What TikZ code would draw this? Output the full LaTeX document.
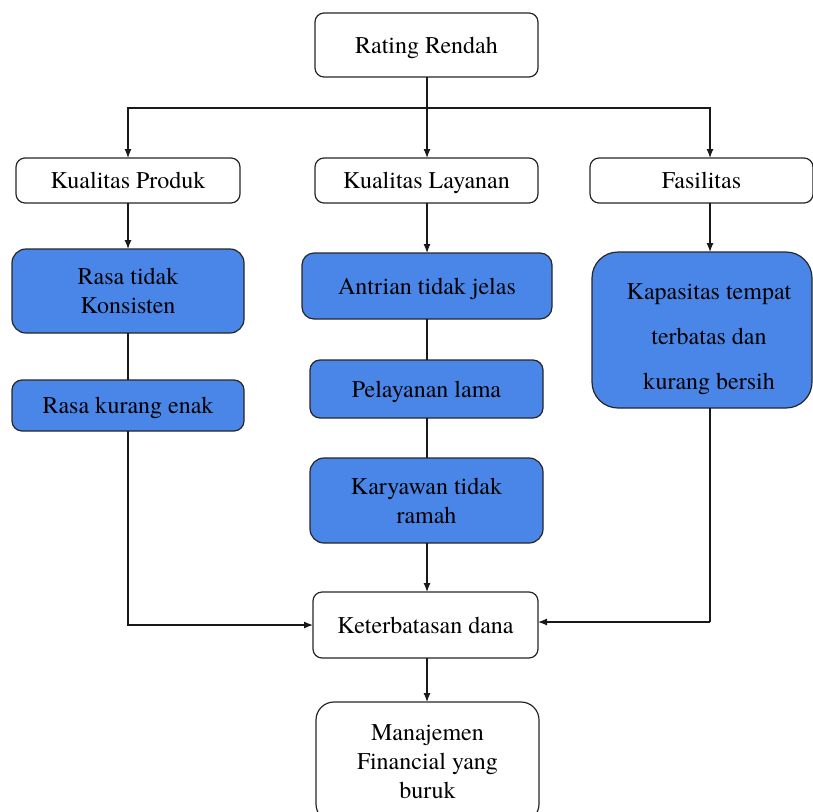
\documentclass[tikz,border=0pt]{standalone}
\usepackage{fontspec}
\setmainfont{TeX Gyre Termes}
\usetikzlibrary{arrows.meta}
\definecolor{gblue}{HTML}{4A86E8}
\begin{document}
\begin{tikzpicture}[x=1pt,y=1pt,
  base/.style={draw=black!85, line width=1.2pt, inner sep=0pt, outer sep=0pt, align=center,
    font=\fontsize{24}{29}\selectfont, text=black},
  one/.style={text height=21.5pt, text depth=5pt},
  wbox/.style={base, fill=white, rounded corners=9pt},
  bbox/.style={base, fill=gblue, rounded corners=14pt},
  txt/.style={inner sep=0pt, align=center, font=\fontsize{24}{29}\selectfont, text=black},
  conn/.style={draw=black!90, line width=1.2pt},
  arr/.style={conn, -{Latex[length=9pt,width=7pt]}}]
\clip (0,0) rectangle (813,-811);
\useasboundingbox (0,0) rectangle (813,-811);
% boxes
\node[wbox, one, minimum width=223pt, minimum height=64pt] (rr) at (426.5,-45) {Rating Rendah};
\node[wbox, one, minimum width=224pt, minimum height=45pt] (kp) at (128,-180.5) {Kualitas Produk};
\node[wbox, one, minimum width=223pt, minimum height=45pt] (kl) at (426.5,-180.5) {Kualitas Layanan};
\node[wbox, one, minimum width=223pt, minimum height=45pt] (fa) at (701.5,-180.5) {Fasilitas};
\node[bbox, minimum width=232pt, minimum height=84pt] (rt) at (128,-291) {Rasa tidak\\Konsisten};
\node[bbox, one, rounded corners=10pt, minimum width=232pt, minimum height=51pt] (rk) at (128,-405.5) {Rasa kurang enak};
\node[bbox, one, rounded corners=12pt, minimum width=250pt, minimum height=66pt] (an) at (427,-286) {Antrian tidak jelas};
\node[bbox, one, rounded corners=10pt, minimum width=233pt, minimum height=58pt] (pl) at (426.5,-389) {Pelayanan lama};
\node[bbox, minimum width=233pt, minimum height=85pt] (ky) at (426.5,-500.5) {Karyawan tidak\\ramah};
\node[bbox, rounded corners=26pt, minimum width=220pt, minimum height=156pt] (ks) at (702,-330) {};
\node[txt] (kst) at (709,-339) {Kapasitas tempat\\[16pt]terbatas dan\\[16pt]kurang bersih};
\node[wbox, one, minimum width=225pt, minimum height=66pt] (kd) at (425.5,-625) {Keterbatasan dana};
\node[wbox, rounded corners=18pt, minimum width=223pt, minimum height=120pt] (mf) at (427.5,-762) {Manajemen\\Financial yang\\buruk};
% helper coordinates
\coordinate (cf) at (710,0);
\coordinate (cl) at (427,0);
% connectors
\draw[conn] (rr.south -| cl) -- ++(0,-31) coordinate (j);
\draw[arr] (j) -| (kp.north);
\draw[arr] (j) -- (kl.north -| cl);
\draw[arr] (j) -| (fa.north -| cf);
\draw[arr] (kp.south) -- (rt.north);
\draw[conn] (rt.south) -- (rk.north);
\draw[arr] (rk.south) |- (kd.west);
\draw[arr] (kl.south -| cl) -- (an.north -| cl);
\draw[conn] (an.south -| cl) -- (pl.north -| cl);
\draw[conn] (pl.south -| cl) -- (ky.north -| cl);
\draw[arr] (ky.south -| cl) -- (kd.north -| cl);
\draw[arr] (fa.south -| cf) -- (ks.north -| cf);
\draw[conn] (ks.south -| cf) -- ++(0,-214) coordinate (r);
\draw[arr] (r) -- (r -| kd.east);
\draw[arr] (kd.south -| cl) -- (mf.north -| cl);
\end{tikzpicture}
\end{document}
